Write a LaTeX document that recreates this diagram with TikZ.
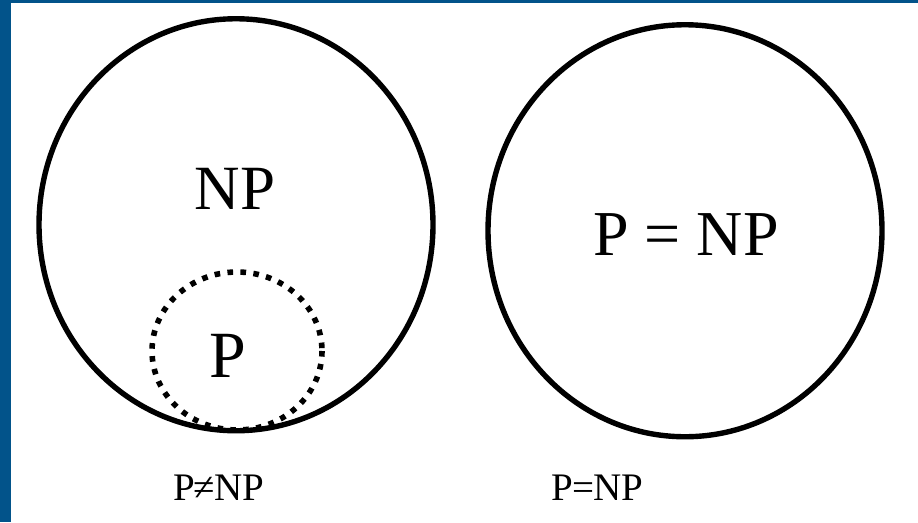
\documentclass[tikz,border=0pt]{standalone}
\usepackage{fontspec}
\setmainfont{Liberation Serif}
\definecolor{frameblue}{RGB}{2,83,138}
\tikzset{
  bigset/.style={line width=5.4pt, draw=black},
  subset/.style={line width=5.6pt, draw=black, dash pattern=on 5.6pt off 7.4pt},
  lbl/.style={anchor=base, inner sep=0pt, text=black},
}
\begin{document}
\begin{tikzpicture}[x=1pt,y=-1pt]
\useasboundingbox (0,0) rectangle (918,522);
\fill[white] (0,0) rectangle (918,522);
\fill[frameblue] (0,0) rectangle (11,522);
\fill[frameblue] (0,0) rectangle (918,3);
% left diagram
\draw[bigset] (236,224.75) ellipse [x radius=197, y radius=206];
\draw[subset] (237,351) ellipse [x radius=85, y radius=79];
\node[lbl, font=\fontsize{63}{63}\selectfont] (np) at (235,209) {NP};
\node[lbl, font=\fontsize{66}{66}\selectfont] (p) at (228,377) {P};
% right diagram
\draw[bigset] (685,230.75) ellipse [x radius=197, y radius=206];
\node[lbl, font=\fontsize{64}{64}\selectfont] (peq) at (686,255) {P = NP};
% captions
\node[lbl, font=\fontsize{39}{39}\selectfont] (capl) at (218.5,500) {P\kern-1pt≠\kern-1pt NP};
\node[lbl, font=\fontsize{39}{39}\selectfont] (capr) at (597.5,500) {P\kern-1pt=\kern-1pt NP};
\end{tikzpicture}
\end{document}
